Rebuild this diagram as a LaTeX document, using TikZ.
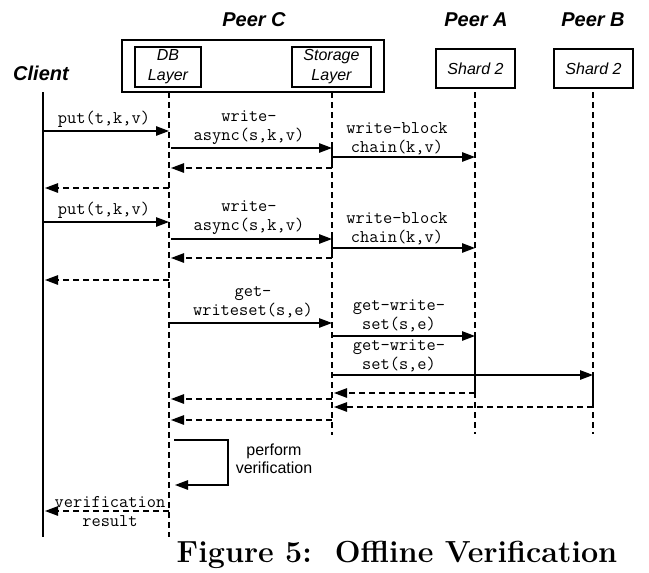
\documentclass[tikz,border=0pt]{standalone}
\usepackage{fontspec}
\newfontfamily\sansf{Liberation Sans}
\usetikzlibrary{arrows.meta}
\begin{document}
\begin{tikzpicture}[x=1pt,y=-1pt,
  lbl/.style={font=\ttfamily\fontsize{17.9}{19}\selectfont, align=center, inner sep=0},
  ttl/.style={font=\sansf\bfseries\itshape\fontsize{20}{22}\selectfont, inner sep=0},
  lay/.style={draw, line width=1.3pt, inner sep=0, align=center, font=\sansf\itshape\fontsize{16}{20}\selectfont},
  life/.style={line width=1.1pt, dash pattern=on 6pt off 4pt},
  msg/.style={line width=1.2pt, -{Triangle[length=13pt,width=9.5pt]}},
  ret/.style={msg, dash pattern=on 6pt off 4pt},
  act/.style={line width=1.1pt},
]
\useasboundingbox (0,0) rectangle (649,573);

% titles
\node[ttl] (tC) at (254,20) {Peer C};
\node[ttl] (tA) at (476,20) {Peer A};
\node[ttl] (tB) at (593,20) {Peer B};
\node[ttl] (tCl) at (41,73) {Client};

% boxes
\node[draw, line width=1.4pt, minimum width=262pt, minimum height=52pt, inner sep=0] (peerc) at (253,66) {};
\node[lay, minimum width=66pt, minimum height=40pt] (dbbox) at (168,67) {DB\\Layer};
\node[lay, minimum width=79pt, minimum height=40pt] (stbox) at (331.5,67) {Storage\\Layer};
\node[lay, minimum width=79pt, minimum height=39pt] (shA) at (475.5,68.5) {Shard 2};
\node[lay, minimum width=79pt, minimum height=39pt] (shB) at (593.5,68.5) {Shard 2};

% lifelines
\coordinate (cl) at (43,92);   \coordinate (clE) at (43,537);
\coordinate (db) at (169,92);  \coordinate (dbE) at (169,537);
\coordinate (st) at (332,92);  \coordinate (stE) at (332,435);
\coordinate (pa) at (475,92);  \coordinate (paE) at (475,434);
\coordinate (pb) at (593,92);  \coordinate (pbE) at (593,434);
\draw[line width=1.3pt] (cl) -- (clE);
\draw[life] (db) -- (dbE);
\draw[life] (st) -- (stE);
\draw[life] (pa) -- (paE);
\draw[life] (pb) -- (pbE);

% activation ticks
\draw[act] (st|-0,143) -- (st|-0,164);
\draw[act] (st|-0,234) -- (st|-0,255);
\draw[act] (pa|-0,336) -- (pa|-0,393);
\draw[act] (pb|-0,375) -- (pb|-0,407);

% first write
\node[lbl] (l1) at (104,119) {put(t,k,v)};
\draw[msg] (cl|-0,131) -- (db|-0,131);
\node[lbl] (l2) at (249,127.5) {write-\\async(s,k,v)};
\draw[msg] ([xshift=2pt]db|-0,148) -- (st|-0,148);
\node[lbl] (l3) at (397,139) {write-block\\chain(k,v)};
\draw[msg] (st|-0,157) -- (pa|-0,157);
\draw[ret] (st|-0,168) -- ([xshift=2pt]db|-0,168);
\draw[ret] (db|-0,188) -- ([xshift=2pt]cl|-0,188);

% second write
\node[lbl] (l4) at (104,210) {put(t,k,v)};
\draw[msg] (cl|-0,222) -- (db|-0,222);
\node[lbl] (l5) at (249,218) {write-\\async(s,k,v)};
\draw[msg] ([xshift=2pt]db|-0,239) -- (st|-0,239);
\node[lbl] (l6) at (397,229) {write-block\\chain(k,v)};
\draw[msg] (st|-0,248) -- (pa|-0,248);
\draw[ret] (st|-0,258) -- ([xshift=2pt]db|-0,258);
\draw[ret] (db|-0,280) -- ([xshift=2pt]cl|-0,280);

% get writeset
\node[lbl] (l7) at (253,302.5) {get-\\writeset(s,e)};
\draw[msg] (db|-0,323) -- (st|-0,323);
\node[lbl] (l8) at (399,316) {get-write-\\set(s,e)};
\draw[msg] (st|-0,336) -- (pa|-0,336);
\node[lbl] (l9) at (399,355.5) {get-write-\\set(s,e)};
\draw[msg] (st|-0,375) -- (pb|-0,375);
\draw[ret] (pa|-0,393) -- ([xshift=2pt]st|-0,393);
\draw[ret] (st|-0,399) -- ([xshift=2pt]db|-0,399);
\draw[ret] (pb|-0,407) -- ([xshift=2pt]st|-0,407);
\draw[ret] (st|-0,420) -- ([xshift=2pt]db|-0,420);

% perform verification
\coordinate (lpA) at (174,440);
\coordinate (lpB) at (228,440);
\coordinate (lpC) at (228,485);
\coordinate (lpD) at (175,485);
\draw[msg] (lpA) -- (lpB) -- (lpC) -- (lpD);
\node[font=\sansf\fontsize{16}{17.7}\selectfont, align=center, inner sep=0] (pv) at (274,459) {perform\\verification};

% result
\node[lbl] (l10) at (110,511.5) {verification\\result};
\draw[ret] (db|-0,511) -- ([xshift=2pt]cl|-0,511);

% caption
\node[font=\fontsize{30.5}{36}\selectfont\bfseries, inner sep=0, anchor=base] (cap) at (397,562) {Figure 5:\ \ Offline Verification};
\end{tikzpicture}
\end{document}
